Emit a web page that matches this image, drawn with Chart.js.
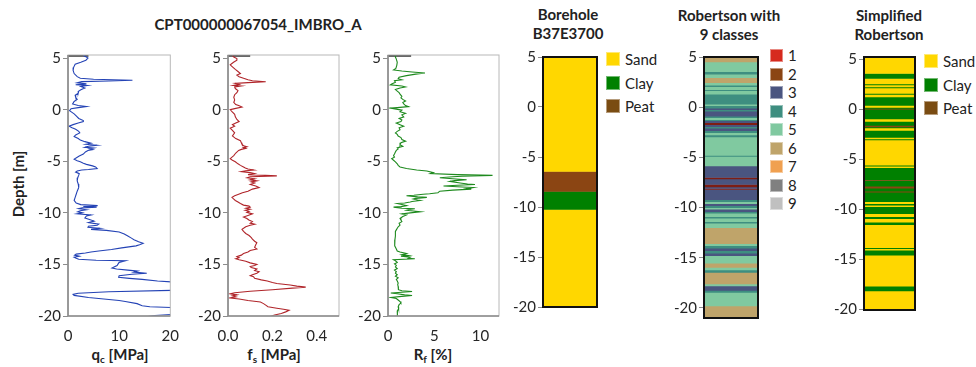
<!DOCTYPE html>
<html><head><meta charset="utf-8">
<script src="https://cdn.jsdelivr.net/npm/chart.js@4.4.1/dist/chart.umd.min.js"></script>
<style>
html,body{margin:0;padding:0;background:#fff}
body{width:976px;height:367px;position:relative;overflow:hidden;font-family:Lato,"Open Sans",sans-serif;color:#222}
canvas{position:absolute}
.t{position:absolute;font-weight:bold;font-size:15px;line-height:19px;text-align:center;white-space:nowrap;transform:translateX(-50%)}
.ax{position:absolute;font-weight:bold;font-size:15px;white-space:nowrap;transform:translate(-50%,-50%)}
.ax sub{font-size:10px;vertical-align:-3px;line-height:0}
.lg{position:absolute;font-size:15px;line-height:16px;white-space:nowrap}
.lg i{position:absolute;left:0;top:0;box-sizing:border-box}
.lg span{position:absolute;top:0}
</style></head><body>
<div class="t" style="left:258px;top:15px">CPT000000067054_IMBRO_A</div>
<div class="t" style="left:568px;top:5px">Borehole<br>B37E3700</div>
<div class="t" style="left:729px;top:6px">Robertson with<br>9 classes</div>
<div class="t" style="left:889px;top:6px">Simplified<br>Robertson</div>
<div class="ax" style="left:18px;top:184px;transform:translate(-50%,-50%) rotate(-90deg)">Depth [m]</div>
<div class="ax" style="left:120px;top:354px">q<sub>c</sub> [MPa]</div>
<div class="ax" style="left:274px;top:354px">f<sub>s</sub> [MPa]</div>
<div class="ax" style="left:433px;top:354px">R<sub>f</sub> [%]</div>
<div id="legends"></div>
<script>
// ---------------- DATA ----------------
const depthTicks = [5, 0, -5, -10, -15, -20];
const qcTicks = [0, 10, 20];
const fsTicks = [0, 0.2, 0.4];
const rfTicks = [0, 5, 10];

const qcDepth = [5.25,5.1,5.0,4.8,4.6,4.4,4.1,3.8,3.5,3.2,3.05,2.95,2.85,2.78,2.72,2.6,2.5,2.42,2.35,2.25,2.1,1.95,1.8,1.6,1.4,1.2,1.0,0.8,0.55,0.4,0.3,0.2,0.1,-0.1,-0.4,-0.6,-0.85,-1.05,-1.15,-1.3,-1.45,-1.6,-1.75,-1.9,-2.1,-2.25,-2.45,-2.6,-2.8,-2.95,-3.1,-3.25,-3.35,-3.45,-3.55,-3.65,-3.72,-3.8,-3.88,-3.95,-4.1,-4.3,-4.5,-4.7,-4.8,-4.95,-5.05,-5.2,-5.3,-5.45,-5.55,-5.7,-5.8,-5.85,-5.95,-6.05,-6.2,-6.35,-6.6,-6.9,-7.2,-7.55,-7.9,-8.2,-8.5,-8.8,-9.05,-9.2,-9.3,-9.38,-9.45,-9.52,-9.6,-9.7,-9.8,-9.9,-10.0,-10.1,-10.2,-10.3,-10.5,-10.65,-10.8,-10.95,-11.1,-11.2,-11.3,-11.4,-11.5,-11.6,-11.7,-11.85,-12.05,-12.25,-12.45,-12.6,-12.8,-12.95,-13.1,-13.2,-13.4,-13.55,-13.7,-13.8,-13.9,-14.0,-14.1,-14.2,-14.3,-14.4,-14.5,-14.6,-14.65,-14.8,-14.95,-15.1,-15.25,-15.35,-15.45,-15.55,-15.65,-15.75,-15.85,-15.95,-16.1,-16.25,-16.35,-16.45,-16.6,-16.75,-17.0,-17.3,-17.5,-17.65,-17.8,-17.9,-18.0,-18.2,-18.35,-18.5,-18.6,-18.8,-19.0,-19.1,-19.2,-19.5,-19.8,-19.95,-20.1];
const qcValue = [3.0,3.6,3.9,3.5,2.5,1.4,1.1,1.0,1.2,1.8,2.4,5.0,12.6,8,2.7,1.8,3.6,1.5,3.8,2.5,3.3,2.6,2.1,2.0,1.4,1.5,1.8,1.2,0.9,2.0,3.6,2.0,0.6,0.3,1.2,1.6,2.1,3.0,3.0,2.0,1.0,0.2,0.8,1.5,2.1,2.3,1.5,1.2,2.0,2.4,3.3,4.5,3.5,5.7,4.0,3.3,5.0,4.2,4.8,3.9,3.4,3.0,2.2,1.5,1.2,1.8,2.4,3.0,3.6,4.8,5.4,5.7,4.0,2.7,1.8,1.5,2.2,2.1,1.9,1.8,2.0,2.1,1.8,1.6,1.4,1.2,1.6,2.5,5.8,3.0,5.6,2.8,2.1,3.6,2.4,1.9,2.8,1.8,4.5,3.6,3.3,4.2,5.1,4.0,6.0,5.7,4.0,3.9,6.2,4.5,7.5,10.0,11.0,11.7,12.4,12.9,13.8,14.7,14.0,13.3,10.5,8.5,6.0,4.5,3.4,1.6,1.3,2.2,1.2,1.6,2.1,5.5,11.2,10.0,9.8,9.6,9.0,8.6,9.5,11.7,13.6,12.9,15.4,12.5,10.0,9.9,12.0,14.5,17.5,22,26,26,22,8.0,2.0,1.0,1.2,4.0,7.0,10.0,11.2,13.5,14.5,16.0,22,26,22,17.0,15.0];

const fsDepth = [5.25,5.1,4.95,4.8,4.6,4.35,4.15,3.9,3.7,3.5,3.35,3.2,3.05,2.9,2.8,2.7,2.62,2.55,2.45,2.35,2.3,2.2,2.05,1.85,1.65,1.45,1.2,0.95,0.7,0.5,0.4,0.25,0.1,0.0,-0.2,-0.45,-0.7,-0.95,-1.15,-1.3,-1.45,-1.6,-1.8,-2.0,-2.25,-2.55,-2.8,-3.0,-3.2,-3.35,-3.5,-3.6,-3.68,-3.75,-3.85,-3.95,-4.2,-4.45,-4.75,-4.9,-5.05,-5.25,-5.4,-5.55,-5.65,-5.75,-5.85,-5.92,-6.0,-6.1,-6.2,-6.3,-6.42,-6.5,-6.6,-6.7,-6.8,-6.9,-7.0,-7.1,-7.25,-7.4,-7.55,-7.7,-7.9,-8.05,-8.2,-8.35,-8.5,-8.65,-8.8,-8.95,-9.1,-9.25,-9.35,-9.45,-9.55,-9.65,-9.75,-9.85,-9.95,-10.1,-10.25,-10.4,-10.55,-10.7,-10.85,-11.0,-11.1,-11.2,-11.35,-11.5,-11.6,-11.8,-12.0,-12.2,-12.4,-12.55,-12.75,-12.9,-13.1,-13.35,-13.5,-13.65,-13.8,-13.95,-14.1,-14.25,-14.35,-14.45,-14.55,-14.7,-14.85,-15.0,-15.1,-15.2,-15.3,-15.45,-15.6,-15.7,-15.85,-16.0,-16.1,-16.2,-16.35,-16.5,-16.6,-16.75,-16.85,-17.0,-17.1,-17.2,-17.3,-17.45,-17.6,-17.75,-17.85,-17.95,-18.05,-18.15,-18.25,-18.35,-18.5,-18.65,-18.8,-18.95,-19.1,-19.25,-19.35,-19.45,-19.6,-19.75,-19.9,-20.05];
const fsValue = [0.02,0.026,0.04,0.04,0.025,0.01,0.02,0.033,0.045,0.056,0.04,0.05,0.07,0.09,0.11,0.17,0.09,0.033,0.05,0.025,0.06,0.03,0.033,0.045,0.04,0.03,0.026,0.03,0.026,0.035,0.048,0.063,0.03,0.01,0.018,0.03,0.033,0.04,0.05,0.035,0.02,0.03,0.01,0.02,0.03,0.02,0.035,0.056,0.06,0.063,0.07,0.085,0.07,0.08,0.06,0.048,0.035,0.026,0.01,0.02,0.033,0.045,0.056,0.07,0.078,0.09,0.116,0.08,0.06,0.1,0.12,0.09,0.22,0.1,0.086,0.12,0.1,0.13,0.105,0.12,0.1,0.125,0.14,0.11,0.09,0.065,0.048,0.03,0.018,0.025,0.033,0.045,0.056,0.07,0.095,0.1,0.08,0.1,0.078,0.095,0.085,0.11,0.09,0.07,0.085,0.094,0.11,0.1,0.12,0.1,0.08,0.07,0.063,0.07,0.08,0.095,0.105,0.11,0.12,0.13,0.125,0.12,0.13,0.1,0.09,0.07,0.06,0.04,0.05,0.035,0.05,0.08,0.1,0.13,0.12,0.1,0.105,0.13,0.12,0.14,0.13,0.11,0.1,0.115,0.12,0.15,0.177,0.2,0.22,0.28,0.31,0.35,0.29,0.2,0.1,0.03,0.01,0.04,0.02,0.035,0.01,0.05,0.09,0.146,0.16,0.17,0.18,0.22,0.25,0.275,0.26,0.24,0.21,0.19];

const rfDepth = [5.25,5.1,4.9,4.6,4.3,4.0,3.85,3.75,3.65,3.55,3.45,3.3,3.15,3.0,2.9,2.8,2.65,2.5,2.4,2.3,2.2,2.1,1.95,1.8,1.65,1.5,1.3,1.15,1.0,0.85,0.7,0.55,0.4,0.3,0.2,0.15,0.05,-0.05,-0.2,-0.35,-0.5,-0.7,-0.85,-1.0,-1.15,-1.3,-1.45,-1.6,-1.75,-1.95,-2.1,-2.25,-2.4,-2.55,-2.7,-2.9,-3.05,-3.2,-3.4,-3.55,-3.7,-3.8,-3.95,-4.1,-4.3,-4.45,-4.6,-4.75,-4.9,-5.05,-5.25,-5.4,-5.55,-5.7,-5.85,-5.95,-6.1,-6.2,-6.3,-6.37,-6.45,-6.5,-6.6,-6.7,-6.8,-6.88,-6.95,-7.1,-7.2,-7.25,-7.32,-7.4,-7.5,-7.55,-7.65,-7.7,-7.8,-7.9,-8.05,-8.15,-8.2,-8.3,-8.35,-8.45,-8.5,-8.6,-8.65,-8.75,-8.8,-8.9,-8.95,-9.05,-9.1,-9.2,-9.3,-9.4,-9.45,-9.55,-9.6,-9.7,-9.75,-9.85,-9.9,-10.0,-10.1,-10.2,-10.35,-10.55,-10.7,-10.85,-11.0,-11.2,-11.35,-11.5,-11.65,-11.8,-12.0,-12.25,-12.6,-12.9,-13.2,-13.5,-13.7,-13.8,-13.95,-14.05,-14.15,-14.2,-14.3,-14.4,-14.45,-14.55,-14.65,-14.8,-14.95,-15.1,-15.25,-15.4,-15.55,-15.7,-15.85,-16.0,-16.15,-16.3,-16.45,-16.6,-16.8,-16.95,-17.15,-17.3,-17.45,-17.55,-17.62,-17.7,-17.77,-17.85,-17.95,-18.02,-18.1,-18.2,-18.3,-18.45,-18.6,-18.75,-18.9,-19.1,-19.3,-19.5,-19.7,-19.9,-20.05];
const rfValue = [0.8,0.8,0.9,1.0,0.95,0.85,0.6,1.5,2.6,4.0,3.0,2.0,1.2,1.1,1.5,0.7,0.8,0.4,0.25,1.5,1.9,1.3,0.8,1.0,1.2,1.3,1.5,1.4,1.6,1.9,1.6,1.7,1.9,2.2,1.0,0.25,0.9,1.5,1.3,1.9,1.5,1.7,1.2,1.5,1.4,0.9,1.3,1.7,1.2,1.3,1.0,0.8,1.0,1.1,1.4,1.5,1.9,1.4,1.3,1.6,1.0,1.1,0.9,0.8,0.7,0.6,0.7,0.4,0.6,0.8,1.0,1.1,1.3,2.0,3.1,4.2,4.9,4.6,7.5,11.3,8.0,7.0,5.6,7.0,8.5,7.2,6.7,7.8,8.6,9.4,7.5,6.0,8.0,9.2,8.5,9.0,7.0,5.6,5.4,4.5,3.8,2.8,2.0,3.2,4.2,3.0,2.75,3.2,3.5,2.6,2.4,1.8,1.0,1.5,2.0,1.4,0.6,1.5,2.9,2.2,2.0,3.0,3.5,2.4,1.5,2.0,1.6,1.3,1.4,1.5,1.2,1.3,1.1,1.0,0.9,0.8,0.8,0.8,0.75,0.7,0.75,0.9,1.0,1.3,2.0,1.5,2.2,1.4,2.4,2.2,2.9,0.6,0.8,1.0,0.7,0.9,0.8,1.0,0.7,0.9,0.8,1.0,0.8,1.1,0.9,1.0,1.1,1.05,1.1,1.15,1.1,1.5,2.6,1.5,0.3,1.0,1.8,2.6,1.5,0.3,0.9,1.1,1.3,1.4,1.2,1.1,1.15,1.0,1.05,1.0,1.0];

// surface marker line at the top of each CPT panel [depth, from, to]
const qcSurface = [5.25, 0, 4];
const fsSurface = [5.25, 0, 0.1];
const rfSurface = [5.25, 0, 2.5];

// layers: [top, bottom, soil]
const boreholeLayers = [[5, -6.45, 'Sand'], [-6.45, -8.45, 'Peat'], [-8.45, -10.25, 'Clay'], [-10.25, -20, 'Sand']];
const soilNames = ['Sand', 'Clay', 'Peat'];

// Robertson 9 classes: [top, bottom, class]
const robertsonLayers = [
[5.0,4.5,6],[4.5,3.55,5],[3.55,3.3,4],[3.3,2.95,5],[2.95,2.45,6],[2.45,2.2,5],[2.2,2.05,4],[2.05,1.75,5],[1.75,1.65,4],[1.65,1.3,5],
[1.3,0.3,4],[0.3,0.15,5],[0.15,-0.1,4],[-0.1,-0.25,3],[-0.25,-0.4,4],[-0.4,-0.9,3],[-0.9,-1.05,4],[-1.05,-1.25,5],[-1.25,-1.35,4],[-1.35,-1.55,3],
[-1.55,-1.75,2],[-1.75,-1.95,3],[-1.95,-2.1,4],[-2.1,-2.35,3],[-2.35,-2.55,4],[-2.55,-2.75,5],[-2.75,-2.95,4],[-2.95,-4.8,5],[-4.8,-4.9,4],[-4.9,-5.85,5],
[-5.85,-7.0,3],[-7.0,-7.15,2],[-7.15,-7.7,3],[-7.7,-7.95,2],[-7.95,-8.1,3],[-8.1,-8.2,2],[-8.2,-9.2,3],[-9.2,-9.4,4],[-9.4,-9.6,5],[-9.6,-9.8,3],
[-9.8,-10.0,4],[-10.0,-10.15,5],[-10.15,-10.4,3],[-10.4,-10.55,4],[-10.55,-10.9,5],[-10.9,-11.05,4],[-11.05,-11.4,5],[-11.4,-11.55,4],[-11.55,-12.0,5],[-12.0,-13.6,6],
[-13.6,-13.8,5],[-13.8,-14.05,4],[-14.05,-14.3,3],[-14.3,-14.55,4],[-14.55,-14.8,3],[-14.8,-15.55,5],[-15.55,-15.95,6],[-15.95,-16.2,5],[-16.2,-16.45,4],[-16.45,-17.6,6],
[-17.6,-17.8,5],[-17.8,-18.25,3],[-18.25,-18.45,4],[-18.45,-19.8,5],[-19.8,-21,6]];
const robertsonClasses = ['1','2','3','4','5','6','7','8','9'];

// Simplified Robertson: [top, bottom, soil]
const simplifiedLayers = [
[5.3,3.6,'Sand'],[3.6,3.1,'Clay'],[3.1,2.55,'Sand'],[2.55,2.45,'Clay'],[2.45,2.25,'Sand'],[2.25,2.15,'Clay'],[2.15,1.6,'Sand'],[1.6,1.5,'Clay'],[1.5,1.25,'Sand'],[1.25,0.4,'Clay'],
[0.4,0.2,'Sand'],[0.2,0.1,'Clay'],[0.1,0.02,'Peat'],[0.02,-0.95,'Clay'],[-0.95,-1.2,'Sand'],[-1.2,-1.6,'Clay'],[-1.6,-1.75,'Peat'],[-1.75,-1.85,'Clay'],[-1.85,-2.1,'Sand'],[-2.1,-2.8,'Clay'],
[-2.8,-2.95,'Sand'],[-2.95,-3.05,'Clay'],[-3.05,-5.6,'Sand'],[-5.6,-5.7,'Clay'],[-5.7,-5.85,'Sand'],[-5.85,-7.05,'Clay'],[-7.05,-7.12,'Peat'],[-7.12,-7.7,'Clay'],[-7.7,-7.9,'Peat'],[-7.9,-8.2,'Clay'],
[-8.2,-8.3,'Peat'],[-8.3,-9.25,'Clay'],[-9.25,-9.45,'Sand'],[-9.45,-9.6,'Clay'],[-9.6,-9.75,'Sand'],[-9.75,-10.45,'Clay'],[-10.45,-10.75,'Sand'],[-10.75,-10.95,'Clay'],[-10.95,-11.3,'Sand'],[-11.3,-11.55,'Clay'],
[-11.55,-13.85,'Sand'],[-13.85,-13.95,'Clay'],[-13.95,-14.1,'Sand'],[-14.1,-14.6,'Clay'],[-14.6,-17.7,'Sand'],[-17.7,-18.2,'Clay'],[-18.2,-20.2,'Sand']];

// ---------------- STYLE ----------------
const FONT = {family: 'Lato, "Open Sans", sans-serif', size: 15};
const TXT = '#262626';
const soilColors = {Sand: '#FFD700', Clay: '#008000', Peat: '#8B4513'};
const soilLegendColors = {Sand: '#FFD700', Clay: '#008000', Peat: '#7A4C12'};
const robColors = {1:'#D62A1E', 2:'#7E1E14', 3:'#4A5580', 4:'#3E8E80', 5:'#80C9A0', 6:'#BFA46A', 7:'#F0A050', 8:'#808080', 9:'#C0C0C0'};
const robLegendColors = {1:'#D62A1E', 2:'#8B4513', 3:'#4A5580', 4:'#3E8E80', 5:'#80C9A0', 6:'#BFA46A', 7:'#F0A050', 8:'#808080', 9:'#C0C0C0'};

const framePlugin = {
  id: 'frame',
  afterDatasetsDraw(chart, args, o) {
    const {ctx, chartArea: a} = chart;
    ctx.save();
    ctx.strokeStyle = o.color; ctx.lineWidth = o.width;
    ctx.strokeRect(a.left, a.top, a.right - a.left, a.bottom - a.top);
    if (o.axisColor) {
      ctx.strokeStyle = o.axisColor; ctx.lineWidth = o.axisWidth;
      ctx.beginPath();
      ctx.moveTo(a.left, a.top); ctx.lineTo(a.left, a.bottom); ctx.lineTo(a.right, a.bottom);
      ctx.stroke();
    }
    ctx.restore();
  }
};

function mkCanvas(left, top, w, h) {
  const c = document.createElement('canvas');
  c.width = w; c.height = h;
  c.style.left = left + 'px'; c.style.top = top + 'px';
  c.style.width = w + 'px'; c.style.height = h + 'px';
  document.body.appendChild(c);
  return c.getContext('2d');
}

const AY = 44;
function yScale(min, max) {
  return {
    type: 'linear', min, max,
    afterBuildTicks: s => { s.ticks = depthTicks.map(v => ({value: v})); },
    afterFit: s => { s.width = AY; },
    grid: {display: true, drawOnChartArea: false, drawTicks: true, tickLength: 5, color: '#8c8c8c', lineWidth: 1},
    border: {display: false},
    ticks: {padding: 2, font: FONT, color: TXT, autoSkip: false}
  };
}

function cptPanel(left, depth, values, surface, xmin, xmax, xticks, color, fmt) {
  const W = 111, top = 46, bottom = 316, AX = 36;
  const ctx = mkCanvas(left - AY, top - 2, AY + W + 3, 2 + (bottom - top) + AX);
  const pts = depth.map((d, i) => ({x: values[i], y: d}));
  new Chart(ctx, {
    type: 'scatter',
    data: {datasets: [
      {data: pts, showLine: true, borderColor: color, borderWidth: 1.1, pointRadius: 0, tension: 0},
      {data: [{x: surface[1], y: surface[0]}, {x: surface[2], y: surface[0]}], showLine: true, borderColor: '#3a3a3a', borderWidth: 2.5, pointRadius: 0}
    ]},
    plugins: [framePlugin],
    options: {
      responsive: false, animation: false, events: [],
      layout: {padding: {top: 2, right: 3, left: 0, bottom: 0}},
      plugins: {legend: {display: false}, tooltip: {enabled: false},
        frame: {color: '#b8b8b8', width: 1, axisColor: '#8a8a8a', axisWidth: 1.6}},
      scales: {
        x: {type: 'linear', min: xmin, max: xmax,
          afterBuildTicks: s => { s.ticks = xticks.map(v => ({value: v})); },
          afterFit: s => { s.height = AX; },
          grid: {display: false}, border: {display: false},
          ticks: {padding: 3, font: FONT, color: TXT, maxRotation: 0, autoSkip: false, callback: fmt}},
        y: yScale(-20, 5.3)
      }
    }
  });
}

function stripPanel(left, W, top, bottom, ymin, ymax, layers, colorOf) {
  const ctx = mkCanvas(left - AY, top - 3, AY + W + 3, 3 + (bottom - top) + 3);
  new Chart(ctx, {
    type: 'bar',
    data: {labels: [''], datasets: layers.map(l => ({
      data: [[l[0], l[1]]], backgroundColor: colorOf(l[2]), borderWidth: 0,
      barPercentage: 1, categoryPercentage: 1, grouped: false
    }))},
    plugins: [framePlugin],
    options: {
      responsive: false, animation: false, events: [],
      layout: {padding: {top: 3, right: 3, left: 0, bottom: 3}},
      plugins: {legend: {display: false}, tooltip: {enabled: false}, frame: {color: '#111', width: 2}},
      scales: {
        x: {display: false},
        y: yScale(ymin, ymax)
      }
    }
  });
}

cptPanel(68, qcDepth, qcValue, qcSurface, 0, 20, qcTicks, '#2443B5', v => String(v));
cptPanel(228, fsDepth, fsValue, fsSurface, 0, 0.5, fsTicks, '#B0252A', v => v.toFixed(1));
cptPanel(388, rfDepth, rfValue, rfSurface, 0, 12, rfTicks, '#1E8A1E', v => String(v));

stripPanel(543, 54, 49, 315, -20, 5, boreholeLayers, s => soilColors[s]);
stripPanel(704, 54, 49, 326, -21, 5, robertsonLayers, c => robColors[c]);
stripPanel(864, 51, 49, 318, -20.1, 5.25, simplifiedLayers, s => soilColors[s]);

// ---------------- LEGENDS (HTML) ----------------
function legend(x, y0, step, size, names, colors) {
  const host = document.getElementById('legends');
  names.forEach((n, i) => {
    const d = document.createElement('div');
    d.className = 'lg';
    d.style.left = x + 'px'; d.style.top = (y0 + i * step) + 'px';
    d.style.height = size + 'px';
    d.innerHTML = '<i style="width:' + size + 'px;height:' + size + 'px;background:' + colors[n] +
      ';border:1px solid rgba(255,255,255,0.45)"></i><span style="left:' + (size + 5) + 'px;line-height:' + size + 'px">' + n + '</span>';
    host.appendChild(d);
  });
}
legend(606, 52, 23.5, 14, soilNames, soilLegendColors);
legend(770, 49, 18.5, 13, robertsonClasses, robLegendColors);
legend(924, 54, 23.5, 14, soilNames, soilLegendColors);
</script>
</body></html>
